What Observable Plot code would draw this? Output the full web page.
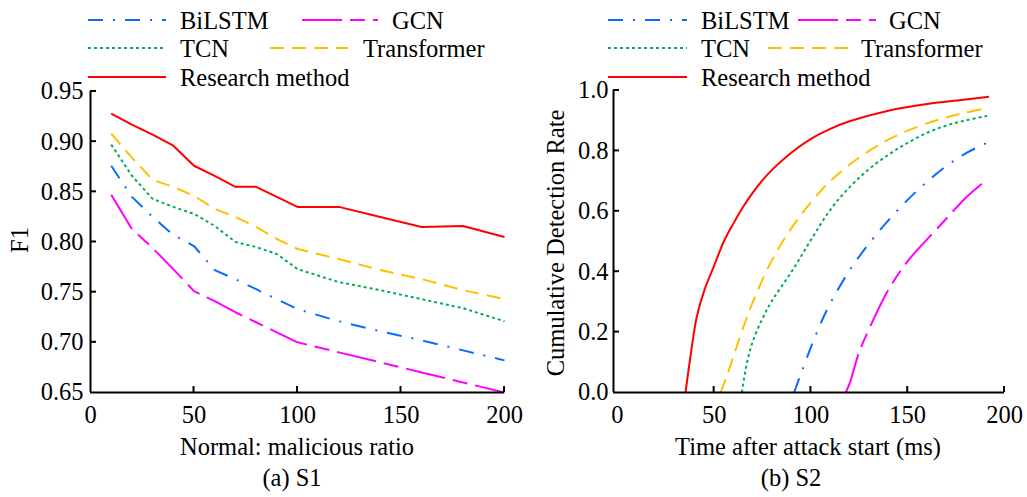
<!DOCTYPE html>
<html>
<head>
<meta charset="utf-8">
<script src="https://cdn.jsdelivr.net/npm/d3@7"></script>
<script src="https://cdn.jsdelivr.net/npm/@observablehq/plot@0.6"></script>
<style>
  body { margin: 0; background: #fff; }
  #wrap { position: relative; width: 1027px; height: 497px; background: #fff; font-family: "Liberation Serif", "DejaVu Serif", serif; }
  #p1, #p2, #ov { position: absolute; top: 0; }
  #p1 { left: 0; }
  #p2 { left: 520px; }
  #ov { left: 0; pointer-events: none; }
</style>
</head>
<body>
<div id="wrap">
  <div id="p1"></div>
  <div id="p2"></div>
  <svg id="ov" width="1027" height="497"></svg>
</div>
<script>
// ---------------- Data ----------------
const seriesNames = ["BiLSTM", "GCN", "TCN", "Transformer", "Research method"];

// (a) S1 : F1 vs Normal:malicious ratio
const s1Ratio = [10, 20, 30, 40, 50, 60, 70, 80, 90, 100, 120, 140, 160, 180, 200];
const s1BiLSTM      = [0.876, 0.845, 0.825, 0.807, 0.796, 0.772, 0.763, 0.753, 0.743, 0.733, 0.721, 0.711, 0.702, 0.692, 0.682];
const s1GCN         = [0.847, 0.813, 0.794, 0.773, 0.751, 0.741, 0.730, 0.720, 0.710, 0.700, 0.690, 0.680, 0.670, 0.660, 0.650];
const s1TCN         = [0.897, 0.866, 0.843, 0.835, 0.828, 0.816, 0.800, 0.795, 0.788, 0.773, 0.760, 0.752, 0.743, 0.734, 0.721];
const s1Transformer = [0.908, 0.884, 0.862, 0.855, 0.846, 0.833, 0.825, 0.815, 0.803, 0.793, 0.783, 0.772, 0.763, 0.752, 0.743];
const s1Research    = [0.928, 0.917, 0.907, 0.896, 0.876, 0.866, 0.855, 0.855, 0.845, 0.835, 0.835, 0.825, 0.815, 0.816, 0.805];

// (b) S2 : cumulative detection rate vs time after attack start (ms)
const s2BiLSTMT = [91.3, 95, 100, 105, 110, 120, 130, 140, 150, 160, 170, 180, 191];
const s2BiLSTMR = [0, 0.065, 0.15, 0.228, 0.295, 0.405, 0.493, 0.57, 0.638, 0.698, 0.75, 0.792, 0.827];
const s2GCNT = [118, 120, 125, 130, 140, 150, 160, 170, 180, 191];
const s2GCNR = [0, 0.03, 0.135, 0.21, 0.34, 0.435, 0.507, 0.576, 0.645, 0.705];
const s2TCNT = [64.3, 67, 70, 75, 80, 90, 100, 110, 120, 130, 140, 150, 160, 170, 180, 191];
const s2TCNR = [0, 0.10, 0.17, 0.245, 0.305, 0.40, 0.505, 0.605, 0.68, 0.74, 0.787, 0.827, 0.86, 0.884, 0.901, 0.916];
const s2TransformerT = [53.3, 56, 60, 65, 70, 80, 90, 100, 110, 120, 130, 140, 150, 160, 170, 180, 191];
const s2TransformerR = [0, 0.045, 0.12, 0.215, 0.30, 0.44, 0.545, 0.63, 0.70, 0.755, 0.80, 0.837, 0.867, 0.891, 0.911, 0.927, 0.942];
const s2ResearchT = [35.2, 38, 41, 45, 50, 55, 60, 65, 70, 75, 80, 90, 100, 110, 120, 140, 160, 180, 192];
const s2ResearchR = [0, 0.13, 0.25, 0.34, 0.42, 0.50, 0.56, 0.615, 0.662, 0.703, 0.738, 0.795, 0.84, 0.873, 0.898, 0.933, 0.955, 0.970, 0.979];

// Axis ticks
const s1XTicks = [0, 50, 100, 150, 200];
const s1YTicks = [0.65, 0.70, 0.75, 0.80, 0.85, 0.90, 0.95];
const s2XTicks = [0, 50, 100, 150, 200];
const s2YTicks = [0, 0.2, 0.4, 0.6, 0.8, 1.0];

// ---------------- Styles ----------------
const colors = ["#0a6cff", "#ff00ff", "#00b050", "#ffc000", "#ff0000"];
const dashes = ["15,10,2,10", "40,8,15,8", "3,3", "14,8", null];
const FONT = "Liberation Serif, DejaVu Serif, serif";
const FS = 24.5;
const TICK = 6;

// Build tidy tables
const s1Values = [s1BiLSTM, s1GCN, s1TCN, s1Transformer, s1Research];
const s1Data = s1Values.map((vals, i) => vals.map((v, j) => ({series: seriesNames[i], x: s1Ratio[j], y: v})));
const s2T = [s2BiLSTMT, s2GCNT, s2TCNT, s2TransformerT, s2ResearchT];
const s2R = [s2BiLSTMR, s2GCNR, s2TCNR, s2TransformerR, s2ResearchR];
const s2Data = s2T.map((ts, i) => ts.map((t, j) => ({series: seriesNames[i], x: t, y: s2R[i][j]})));

function lineMarks(data, curve) {
  return data.map((d, i) => Plot.line(d, {
    x: "x", y: "y",
    stroke: colors[i],
    strokeWidth: 2,
    strokeDasharray: dashes[i] || undefined,
    strokeLinecap: "butt",
    curve
  }));
}

const plotStyle = {fontFamily: FONT, fontSize: FS + "px", color: "black", background: "transparent", overflow: "visible"};

const plot1 = Plot.plot({
  width: 520, height: 497,
  marginLeft: 90, marginRight: 16, marginTop: 91, marginBottom: 105,
  style: plotStyle,
  x: {domain: [0, 200]},
  y: {domain: [0.65, 0.95]},
  marks: [
    ...lineMarks(s1Data, "linear"),
    Plot.ruleX([0], {strokeWidth: 2}),
    Plot.ruleY([0.65], {strokeWidth: 2}),
    Plot.axisX({ticks: s1XTicks, tickSize: 0, tickPadding: 13, tickFormat: d3.format("d"), label: null, fontSize: FS}),
    Plot.axisY({ticks: s1YTicks, tickSize: 0, tickPadding: 7, tickFormat: d3.format(".2f"), label: null, fontSize: FS})
  ]
});
document.getElementById("p1").appendChild(plot1);

const plot2 = Plot.plot({
  width: 507, height: 497,
  marginLeft: 93, marginRight: 23, marginTop: 90, marginBottom: 105,
  style: plotStyle,
  x: {domain: [-2, 200]},
  y: {domain: [0, 1]},
  marks: [
    ...lineMarks(s2Data, "catmull-rom"),
    Plot.ruleX([-2], {strokeWidth: 2}),
    Plot.ruleY([0], {strokeWidth: 2}),
    Plot.axisX({ticks: s2XTicks, tickSize: 0, tickPadding: 13, tickFormat: d3.format("d"), label: null, fontSize: FS}),
    Plot.axisY({ticks: s2YTicks, tickSize: 0, tickPadding: 5, tickFormat: d3.format(".1f"), label: null, fontSize: FS})
  ]
});
document.getElementById("p2").appendChild(plot2);

// ---------------- Overlay: inward ticks, titles, legends, captions ----------------
const ov = d3.select("#ov").style("font-family", FONT).style("font-size", FS + "px");

// inward tick marks, positioned with each plot's own scales
function inwardTicks(plot, offsetX, xTicks, yTicks) {
  const sx = plot.scale("x"), sy = plot.scale("y");
  const x0 = sx.apply(sx.domain[0]) + offsetX;
  const y0 = sy.apply(sy.domain[0]);
  for (const t of xTicks) {
    const px = sx.apply(t) + offsetX;
    ov.append("line").attr("x1", px).attr("x2", px).attr("y1", y0).attr("y2", y0 - TICK)
      .attr("stroke", "black").attr("stroke-width", 2);
  }
  for (const t of yTicks) {
    const py = sy.apply(t);
    ov.append("line").attr("x1", x0).attr("x2", x0 + TICK).attr("y1", py).attr("y2", py)
      .attr("stroke", "black").attr("stroke-width", 2);
  }
}
inwardTicks(plot1, 0, s1XTicks.filter(d => d > 0), s1YTicks.filter(d => d > 0.65));
inwardTicks(plot2, 520, s2XTicks.filter(d => d > 0), s2YTicks.filter(d => d > 0));

function txt(x, y, s, anchor = "start", rotate = 0) {
  ov.append("text")
    .attr("transform", `translate(${x},${y}) rotate(${rotate})`)
    .attr("text-anchor", anchor)
    .attr("fill", "black")
    .text(s);
}

// legend layouts: [sampleX1, sampleX2, rowY, textX]
const legend1 = [[88, 166, 20, 180], [302, 378, 20, 392], [88, 166, 48, 180], [270, 348, 48, 363], [88, 166, 77, 180]];
const legend2 = [[608, 687, 20, 701], [798, 876, 20, 889], [608, 687, 48, 701], [768, 848, 48, 861], [608, 687, 77, 701]];
for (const lg of [legend1, legend2]) {
  lg.forEach(([x1, x2, y, tx], i) => {
    ov.append("line").attr("x1", x1).attr("x2", x2).attr("y1", y).attr("y2", y)
      .attr("stroke", colors[i]).attr("stroke-width", 2)
      .attr("stroke-dasharray", dashes[i]);
    txt(tx, y + 8.5, seriesNames[i]);
  });
}

txt(297, 455, "Normal: malicious ratio", "middle");
txt(292, 486, "(a) S1", "middle");
txt(28, 240, "F1", "middle", -90);

txt(808, 455, "Time after attack start (ms)", "middle");
txt(791, 486, "(b) S2", "middle");
txt(564, 243, "Cumulative Detection Rate", "middle", -90);
</script>
</body>
</html>
